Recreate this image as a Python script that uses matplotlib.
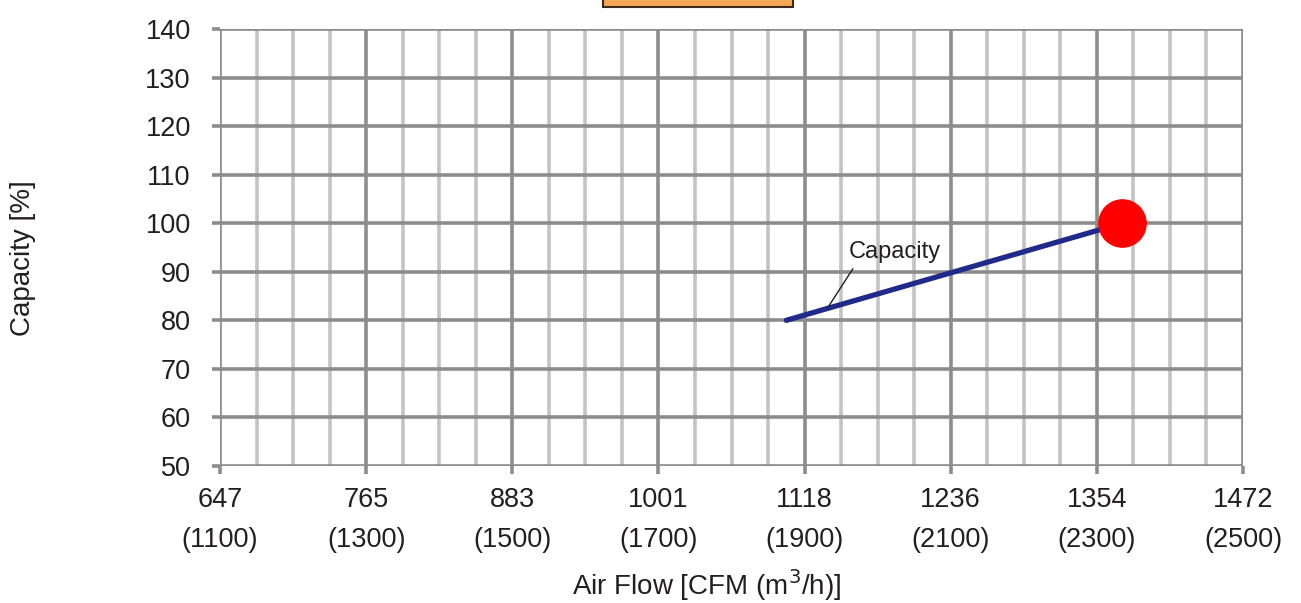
import matplotlib
matplotlib.use("Agg")
import matplotlib.pyplot as plt
from matplotlib.patches import Rectangle
import numpy as np

plt.rcParams['font.family'] = ['Liberation Sans', 'DejaVu Sans']

# Air flow axis (m3/h) with CFM equivalents
flow_m3h = [1100, 1300, 1500, 1700, 1900, 2100, 2300, 2500]
flow_cfm = ["647", "765", "883", "1001", "1118", "1236", "1354", "1472"]
capacity_ticks = [50, 60, 70, 80, 90, 100, 110, 120, 130, 140]

# Capacity curve and rated point
curve_flow = [1875, 2335]
curve_capacity = [80, 100]
rated_flow = 2335
rated_capacity = 100

major_c = "#8c8c8c"
minor_c = "#c3c3c3"
text_c = "#231f20"

fig = plt.figure(figsize=(13.01, 6.03), dpi=100)
ax = fig.add_axes([220/1301, 1 - 466/603, 1023/1301, 437/603])
ax.set_xlim(flow_m3h[0], flow_m3h[-1])
ax.set_ylim(capacity_ticks[0], capacity_ticks[-1])

# grid: light minor verticals every 50, dark majors every 200, horizontals every 10
for x in np.arange(flow_m3h[0], flow_m3h[-1] + 1, 50):
    if (x - flow_m3h[0]) % 200 != 0:
        ax.axvline(x, color=minor_c, lw=2.6, zorder=1)
for x in flow_m3h:
    ax.axvline(x, color=major_c, lw=2.6, zorder=2)
for y in capacity_ticks:
    ax.axhline(y, color=major_c, lw=2.6, zorder=2)

for s in ax.spines.values():
    s.set_visible(False)

ax.set_xticks(flow_m3h)
ax.set_xticklabels([f"{c}\n({m})" for c, m in zip(flow_cfm, flow_m3h)],
                   linespacing=1.72)
ax.set_yticks(capacity_ticks)
ax.tick_params(axis='both', colors=major_c, labelcolor=text_c,
               labelsize=19.5, length=6, width=2.6)
ax.tick_params(axis='x', pad=9)
ax.tick_params(axis='y', pad=15)

ax.plot(curve_flow, curve_capacity, color="#1f2a8a", lw=3.8,
        solid_capstyle='round', zorder=4)
ax.plot([rated_flow], [rated_capacity], 'o', color="#ff0000", ms=34,
        mec="#ff0000", zorder=5, clip_on=False)

# series label with leader line
ax.text(2024, 94.1, "Capacity", fontsize=17, color=text_c,
        ha='center', va='center', zorder=6)
ax.plot([1966, 1933], [90.6, 82.9], color=text_c, lw=1, zorder=6)

fig.text(23/1301, 1 - 258/603, "Capacity [%]", rotation=90, fontsize=20,
         color=text_c, ha='center', va='center')
fig.text(707/1301, 1 - 585/603, "Air Flow [CFM (m$^3$/h)]", fontsize=20,
         color=text_c, ha='center', va='center')

# title box clipped at the top edge
fig.patches.append(Rectangle((603/1301, 1 - 7/603), 190/1301, 30/603,
                             transform=fig.transFigure, facecolor="#f5a855",
                             edgecolor="#3a2a20", lw=1.5))

fig.savefig("out.png", dpi=100)
